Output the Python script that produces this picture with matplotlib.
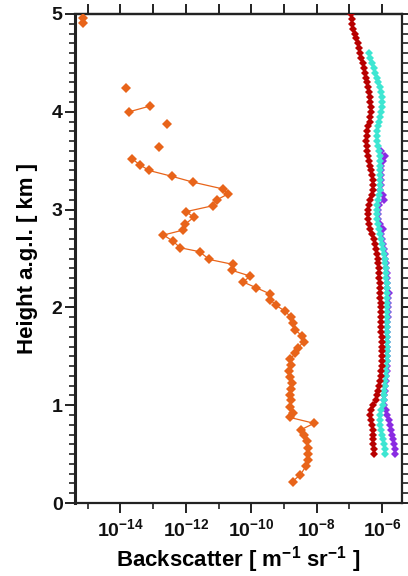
import numpy as np
import matplotlib
matplotlib.use("Agg")
import matplotlib.pyplot as plt
from matplotlib.ticker import FixedLocator, FuncFormatter, MultipleLocator

plt.rcParams['font.family'] = ['Liberation Sans', 'DejaVu Sans']
plt.rcParams['font.weight'] = 'bold'
plt.rcParams['mathtext.fontset'] = 'custom'
plt.rcParams['mathtext.rm'] = 'Liberation Sans:bold'
plt.rcParams['mathtext.bf'] = 'Liberation Sans:bold'
plt.rcParams['mathtext.default'] = 'bf'

# ---------------- data ----------------
# Orange profile (height km, log10 backscatter); NaN marks gaps in the line
orange_height = [4.96, 4.91, np.nan, 4.24, np.nan, 4.06, 4.00, np.nan, 3.875, np.nan, 3.64, np.nan,
                 3.52, 3.46, 3.40, 3.34, 3.28, 3.21, 3.16, 3.10, 3.04, 2.98, 2.92, 2.85, 2.79,
                 2.74, 2.68, 2.61, 2.57, 2.49, 2.44, 2.38, 2.32, 2.26, 2.20, 2.14, 2.08, 2.02,
                 1.96, 1.90, 1.84, 1.77, 1.71, 1.65, 1.59, 1.53, 1.47, 1.41, 1.35, 1.29, 1.23,
                 1.17, 1.10, 1.05, 0.985, 0.92, 0.876, 0.815, 0.75, 0.695, 0.63, 0.565, 0.50,
                 0.44, 0.38, 0.29, 0.22]
orange_log10 = [-15.14, -15.14, np.nan, -13.83, np.nan, -13.08, -13.73, np.nan, -12.56, np.nan, -12.82, np.nan,
                -13.64, -13.41, -13.12, -12.42, -11.77, -10.85, -10.71, -11.05, -11.17, -11.98, -11.76, -12.02, -12.09,
                -12.68, -12.40, -12.17, -11.58, -11.28, -10.56, -10.60, -10.03, -10.25, -9.84, -9.44, -9.42, -9.24,
                -8.96, -8.79, -8.73, -8.66, -8.45, -8.40, -8.56, -8.66, -8.81, -8.78, -8.86, -8.83, -8.76,
                -8.78, -8.81, -8.79, -8.81, -8.73, -8.83, -8.08, -8.48, -8.40, -8.30, -8.27, -8.27,
                -8.27, -8.32, -8.50, -8.74]

# Red profile, heights 5.00 -> 0.50 km every 0.05 km
red_height = np.round(np.arange(5.00, 0.499, -0.05), 2)
red_log10 = [-6.95, -6.93, -6.91, -6.88, -6.84, -6.80, -6.75, -6.71, -6.67, -6.64,
             -6.60, -6.56, -6.52, -6.49, -6.45, -6.42, -6.40, -6.37, -6.36, -6.35,
             -6.35, -6.37, -6.38, -6.42, -6.46, -6.48, -6.49, -6.48, -6.45, -6.42,
             -6.39, -6.36, -6.33, -6.30, -6.29, -6.28, -6.29, -6.32, -6.36, -6.40,
             -6.43, -6.44, -6.44, -6.41, -6.36, -6.30, -6.26, -6.22, -6.19, -6.16,
             -6.14, -6.12, -6.11, -6.10, -6.09, -6.08, -6.07, -6.07, -6.06, -6.05,
             -6.05, -6.04, -6.04, -6.03, -6.03, -6.03, -6.02, -6.02, -6.01, -6.01,
             -6.01, -6.01, -6.02, -6.03, -6.05, -6.07, -6.09, -6.12, -6.15, -6.20,
             -6.27, -6.35, -6.36, -6.33, -6.31, -6.29, -6.28, -6.27, -6.27, -6.25,
             -6.24]

# Cyan profile, heights 4.60 -> 0.50 km every 0.05 km
cyan_height = np.round(np.arange(4.60, 0.499, -0.05), 2)
cyan_log10 = [-6.41, -6.36, -6.31, -6.26, -6.22, -6.17, -6.12, -6.08, -6.05, -6.02,
              -6.01, -6.02, -6.04, -6.07, -6.09, -6.12, -6.15, -6.16, -6.15, -6.13,
              -6.11, -6.08, -6.07, -6.06, -6.06, -6.06, -6.06, -6.07, -6.08, -6.10,
              -6.13, -6.15, -6.16, -6.16, -6.15, -6.12, -6.09, -6.07, -6.04, -6.01,
              -5.98, -5.95, -5.93, -5.91, -5.89, -5.88, -5.87, -5.86, -5.86, -5.85,
              -5.85, -5.84, -5.84, -5.85, -5.85, -5.86, -5.86, -5.86, -5.86, -5.86,
              -5.86, -5.86, -5.86, -5.86, -5.87, -5.88, -5.90, -5.91, -5.93, -5.95,
              -5.96, -5.96, -5.98, -6.05, -6.08, -6.07, -6.06, -6.03, -6.01, -5.98,
              -5.96, -5.93, -5.91]

# Purple profile, heights 3.60 -> 0.50 km every 0.05 km
purple_height = np.round(np.arange(3.60, 0.499, -0.05), 2)
purple_log10 = [-6.05, -5.92, -5.98, -6.03, -6.04, -6.04, -6.05, -6.05, -6.06, -5.98,
                -5.96, -6.10, -6.13, -6.13, -6.12, -6.08, -5.97, -6.04, -6.02, -5.99,
                -5.96, -5.93, -5.91, -5.89, -5.87, -5.86, -5.85, -5.84, -5.84, -5.79,
                -5.83, -5.82, -5.82, -5.83, -5.83, -5.84, -5.84, -5.84, -5.84, -5.84,
                -5.84, -5.84, -5.84, -5.84, -5.84, -5.86, -5.88, -5.89, -5.91, -5.93,
                -5.94, -5.95, -5.96, -5.90, -5.84, -5.80, -5.76, -5.72, -5.69, -5.66,
                -5.63, -5.60, -5.60]

x_ticks = [1e-14, 1e-12, 1e-10, 1e-8, 1e-6]
y_ticks = [0, 1, 2, 3, 4, 5]

# ---------------- plot ----------------
fig = plt.figure(figsize=(4.08, 5.76), dpi=100)
ax = fig.add_axes([0.184, 0.1267, 0.801, 0.849])

def prof(h, lg, color, ms, lw=0.8):
    ax.plot(10.0 ** np.asarray(lg, dtype=float), np.asarray(h, dtype=float),
            color=color, marker='D', markersize=ms, linewidth=lw,
            markeredgewidth=0, zorder=3)

prof(purple_height, purple_log10, '#8A2BE2', 4.4)
prof(cyan_height, cyan_log10, '#3EE6D2', 4.4)
prof(red_height, red_log10, '#B80000', 4.4)
prof(orange_height, orange_log10, '#E8641A', 5.2, lw=0.9)

ax.set_xscale('log')
ax.set_xlim(10 ** -15.38, 10 ** -5.4)
ax.set_ylim(0, 5)

ax.xaxis.set_major_locator(FixedLocator(x_ticks))
ax.xaxis.set_minor_locator(FixedLocator([10.0 ** k for k in range(-15, -5, 2)]))
ax.xaxis.set_major_formatter(FuncFormatter(
    lambda v, p: r'$\mathbf{10^{%d}}$' % int(round(np.log10(v)))))
ax.xaxis.set_minor_formatter(FuncFormatter(lambda v, p: ''))
ax.yaxis.set_major_locator(FixedLocator(y_ticks))
ax.yaxis.set_minor_locator(MultipleLocator(0.1))

ax.tick_params(axis='both', which='major', direction='out', length=7, width=1.4,
               labelsize=14, colors='#222222', labelcolor='#111111')
ax.tick_params(axis='both', which='minor', direction='out', length=4, width=1.2,
               colors='#222222')
ax.tick_params(axis='y', which='both', right=True)
ax.tick_params(axis='y', which='major', pad=2)
ax.tick_params(axis='x', which='major', pad=4)

# top axis: tick every decade, no labels
top = ax.secondary_xaxis('top')
top.xaxis.set_major_locator(FixedLocator([10.0 ** k for k in range(-15, -5)]))
top.xaxis.set_minor_locator(FixedLocator([]))
top.tick_params(axis='x', which='major', direction='out', length=7, width=1.4,
                labeltop=False, colors='#222222')
top.spines['top'].set_linewidth(1.6)
top.spines['top'].set_color('#222222')

for s in ax.spines.values():
    s.set_linewidth(1.6)
    s.set_color('#222222')
ax.spines['left'].set_linewidth(2.2)

ax.set_ylabel('Height a.g.l. [ km ]', fontsize=16, fontweight='bold', labelpad=10)
ax.set_xlabel(r'Backscatter [ m$^{\mathbf{-1}}$ sr$^{\mathbf{-1}}$ ]', fontsize=16,
              fontweight='bold', labelpad=3)

fig.savefig('out.png', dpi=100)
